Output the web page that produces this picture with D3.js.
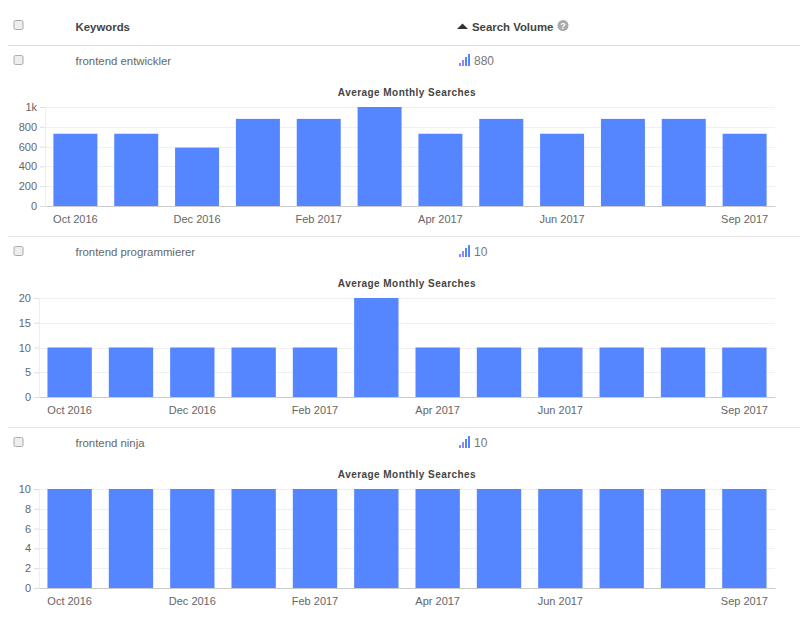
<!DOCTYPE html>
<html>
<head>
<meta charset="utf-8">
<script src="https://cdn.jsdelivr.net/npm/d3@7"></script>
<style>
    html, body { margin: 0; padding: 0; background: #fff; }
    svg { display: block; font-family: "Liberation Sans", Arial, sans-serif; }
    .tick text { font-size: 11px; fill: #666; }
</style>
</head>
<body>
<div id="chart"></div>
<script>
const months = ['Oct 2016', 'Nov 2016', 'Dec 2016', 'Jan 2017', 'Feb 2017', 'Mar 2017',
    'Apr 2017', 'May 2017', 'Jun 2017', 'Jul 2017', 'Aug 2017', 'Sep 2017'];
const labelledMonths = ['Oct 2016', 'Dec 2016', 'Feb 2017', 'Apr 2017', 'Jun 2017', 'Sep 2017'];

const keywords = ['frontend entwickler', 'frontend programmierer', 'frontend ninja'];
const volumes = ['880', '10', '10'];

const entwicklerValues = [730, 730, 590, 880, 880, 1000, 730, 880, 730, 880, 880, 730];
const programmiererValues = [10, 10, 10, 10, 10, 20, 10, 10, 10, 10, 10, 10];
const ninjaValues = [10, 10, 10, 10, 10, 10, 10, 10, 10, 10, 10, 10];

const entwicklerTicks = [0, 200, 400, 600, 800, 1000];
const programmiererTicks = [0, 5, 10, 15, 20];
const ninjaTicks = [0, 2, 4, 6, 8, 10];

const BAR = '#5585ff';
const width = 800, height = 622;

const svg = d3.select('#chart').append('svg')
    .attr('width', width)
    .attr('height', height);

function checkbox(y) {
    svg.append('rect')
        .attr('x', 14).attr('y', y - 4.5)
        .attr('width', 9).attr('height', 9)
        .attr('rx', 1.5)
        .attr('fill', '#eee')
        .attr('stroke', '#aaa');
}

// ─── Table header ───
checkbox(25);
svg.append('text').attr('x', 75.5).attr('y', 31)
    .attr('font-size', 11.4).attr('font-weight', 700).attr('fill', '#444')
    .text('Keywords');
svg.append('path').attr('d', 'M457 29 L462.5 23.5 L468 29 Z').attr('fill', '#333');
svg.append('text').attr('x', 472).attr('y', 31)
    .attr('font-size', 11.4).attr('font-weight', 700).attr('fill', '#444')
    .text('Search Volume');
svg.append('circle').attr('cx', 563).attr('cy', 25.5).attr('r', 5.5).attr('fill', '#aaa');
svg.append('text').attr('x', 563).attr('y', 29)
    .attr('text-anchor', 'middle').attr('font-size', 9).attr('font-weight', 700).attr('fill', '#fff')
    .text('?');
svg.append('line').attr('x1', 8).attr('x2', 800).attr('y1', 45.5).attr('y2', 45.5)
    .attr('stroke', '#ddd');

// Keyword row above each chart, with the little signal-bars icon
function keywordRow(name, volume, y) {
    checkbox(y);
    svg.append('text').attr('x', 75.5).attr('y', y + 5)
        .attr('font-size', 11.4).attr('fill', '#666')
        .text(name);
    const icon = svg.append('g').attr('transform', `translate(459,${y + 6})`);
    d3.range(4).forEach(i => {
        icon.append('rect')
            .attr('x', i * 3).attr('y', -(i + 1) * 3)
            .attr('width', 2).attr('height', (i + 1) * 3)
            .attr('fill', i < 2 ? '#8a8cf5' : '#5585ff');
    });
    svg.append('text').attr('x', 474).attr('y', y + 5)
        .attr('font-size', 12).attr('fill', '#777')
        .text(volume);
}

function barChart({ values, ticks, top, left, format }) {
    const right = 775;
    const plotHeight = 99;
    const g = svg.append('g').attr('transform', `translate(0,${top})`);

    const x = d3.scaleBand()
        .domain(months)
        .range([left, right])
        .paddingInner(0.277)
        .paddingOuter(0.138);
    const y = d3.scaleLinear()
        .domain([0, d3.max(ticks)])
        .range([plotHeight, 0]);

    g.append('text')
        .attr('x', 407).attr('y', -11)
        .attr('text-anchor', 'middle')
        .attr('font-size', 10).attr('font-weight', 700)
        .attr('letter-spacing', 0.45)
        .attr('fill', '#444')
        .text('Average Monthly Searches');

    const yAxis = d3.axisLeft(y).tickValues(ticks).tickSize(5).tickPadding(3).tickFormat(format);
    const yG = g.append('g').attr('transform', `translate(${left},0)`).call(yAxis);
    yG.select('.domain').remove();
    yG.selectAll('.tick line').attr('stroke', '#ddd');

    g.append('g').selectAll('line')
        .data(ticks.filter(t => t > 0))
        .join('line')
        .attr('x1', left).attr('x2', right)
        .attr('y1', d => Math.round(y(d)) + 0.5)
        .attr('y2', d => Math.round(y(d)) + 0.5)
        .attr('stroke', '#f0f0f0');
    g.append('line')
        .attr('x1', left + 0.5).attr('x2', left + 0.5)
        .attr('y1', 0).attr('y2', plotHeight)
        .attr('stroke', '#eee');

    g.append('g').selectAll('rect')
        .data(values)
        .join('rect')
        .attr('x', (d, i) => x(months[i]))
        .attr('y', d => y(d))
        .attr('width', x.bandwidth())
        .attr('height', d => plotHeight - y(d))
        .attr('fill', BAR);

    const xAxis = d3.axisBottom(x)
        .tickValues(labelledMonths)
        .tickSize(0)
        .tickPadding(9.5);
    const xG = g.append('g').attr('transform', `translate(0,${plotHeight})`).call(xAxis);
    xG.select('.domain').attr('stroke', '#ccc');
}

const formatK = d => d >= 1000 ? (d / 1000) + 'k' : String(d);

keywordRow(keywords[0], volumes[0], 60);
barChart({ values: entwicklerValues, ticks: entwicklerTicks, top: 107, left: 45, format: formatK });
svg.append('line').attr('x1', 8).attr('x2', 800).attr('y1', 236.5).attr('y2', 236.5).attr('stroke', '#e6e6e6');

keywordRow(keywords[1], volumes[1], 251);
barChart({ values: programmiererValues, ticks: programmiererTicks, top: 298, left: 39, format: formatK });
svg.append('line').attr('x1', 8).attr('x2', 800).attr('y1', 427.5).attr('y2', 427.5).attr('stroke', '#e6e6e6');

keywordRow(keywords[2], volumes[2], 442);
barChart({ values: ninjaValues, ticks: ninjaTicks, top: 489, left: 39, format: formatK });
</script>
</body>
</html>
